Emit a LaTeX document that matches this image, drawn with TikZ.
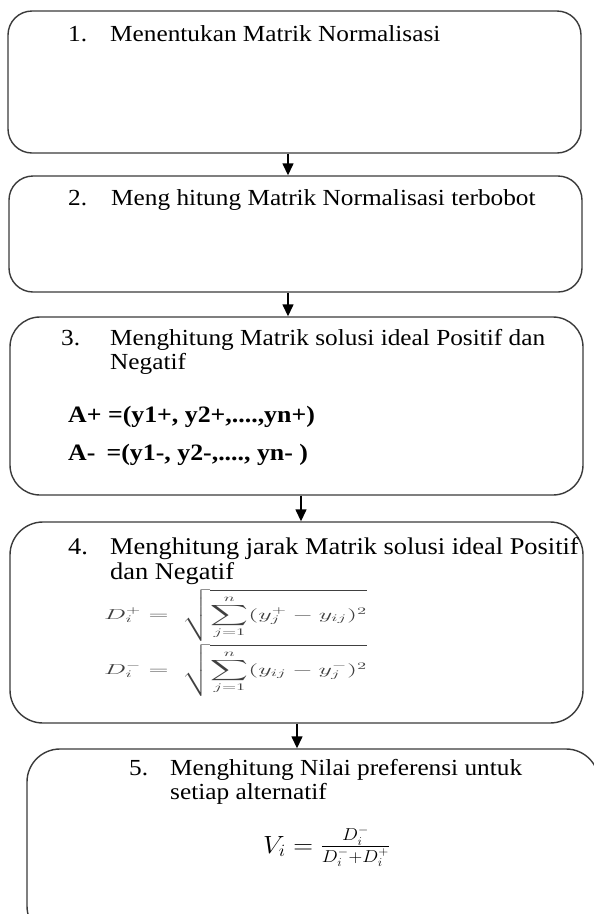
\documentclass[tikz,border=0pt]{standalone}
\usepackage{amsmath}
\usepackage{fontspec}
\setmainfont{Liberation Serif}[FakeStretch=1.1]
\usetikzlibrary{arrows.meta}
\definecolor{boxgray}{HTML}{3A3A3A}
\definecolor{mathgray}{HTML}{404040}
\begin{document}
\begin{tikzpicture}[x=1pt,y=-1pt,
  flowbox/.style={draw=boxgray, line width=1.4pt, inner sep=0pt},
  txt/.style={anchor=base west, inner sep=0pt, font=\fontsize{23}{26}\selectfont},
  txtb/.style={anchor=base west, inner sep=0pt, font=\fontsize{23.5}{26}\selectfont\bfseries},
  txtl/.style={anchor=base west, inner sep=0pt, font=\fontsize{24}{26}\selectfont},
  fml/.style={anchor=base west, inner sep=0pt, text=mathgray, font=\fontsize{14}{16}\selectfont},
  fmlv/.style={anchor=base west, inner sep=0pt, font=\fontsize{25}{27}\selectfont},
  arr/.style={draw=black, line width=1.4pt, -{Triangle[width=11pt,length=12pt]}}]
\useasboundingbox (0,0) rectangle (594,914);
\clip (0,0) rectangle (594,914);
% boxes
\node[flowbox, rounded corners=24pt, minimum width=573pt, minimum height=142pt] (b1) at (294.5,82) {};
\node[flowbox, rounded corners=24pt, minimum width=573pt, minimum height=116pt] (b2) at (295.5,234) {};
\node[flowbox, rounded corners=30pt, minimum width=573pt, minimum height=178pt] (b3) at (296.5,406) {};
\node[flowbox, rounded corners=33pt, minimum width=573pt, minimum height=201pt] (b4) at (296.5,622.5) {};
\node[flowbox, rounded corners=33pt, minimum width=572pt, minimum height=190pt] (b5) at (313,844) {};
% arrow columns
\coordinate (a1) at (288,0);
\coordinate (a2) at (288,0);
\coordinate (a3) at (301,0);
\coordinate (a4) at (297,0);
\draw[arr] (b1.south -| a1) -- (b2.north -| a1);
\draw[arr] (b2.south -| a2) -- (b3.north -| a2);
\draw[arr] (b3.south -| a3) -- (b4.north -| a3);
\draw[arr] (b4.south -| a4) -- (b5.north -| a4);
% box 1
\node[txt] (n1) at (68,41) {1.};
\node[txt] (t1) at (110,41) {Menentukan Matrik Normalisasi};
% box 2
\node[txt] (n2) at (68,205) {2.};
\node[txt] (t2) at (111,205) {Meng hitung Matrik Normalisasi terbobot};
% box 3
\node[txt] (n3) at (61,345) {3.};
\node[txt] (t3a) at (110,345) {Menghitung Matrik solusi ideal Positif dan};
\node[txt] (t3b) at (110,369) {Negatif};
\node[txtb] (t3c) at (68,422) {A+ =(y1+, y2+,....,yn+)};
\node[txtb] (t3d) at (68,460) {A-\hspace{0.2em} =(y1-, y2-,...., yn- )};
% box 4
\node[txtl] (n4) at (68,554) {4.};
\node[txtl] (t4a) at (110,554) {Menghitung jarak Matrik solusi ideal Positif};
\node[txtl] (t4b) at (110,579) {dan Negatif};
\node[fml] (f4a) at (104,619) {\scalebox{1.82}[1.0]{$\displaystyle D_i^{+} =\ \sqrt{\sum_{j=1}^{n}(y_j^{+} - y_{ij})^2}$}};
\node[fml] (f4b) at (104,674) {\scalebox{1.82}[1.0]{$\displaystyle D_i^{-} =\ \sqrt{\sum_{j=1}^{n}(y_{ij} - y_j^{-})^2}$}};
% box 5
\node[txt] (n5) at (129,775) {5.};
\node[txt] (t5a) at (170,775) {Menghitung Nilai preferensi untuk};
\node[txt] (t5b) at (170,799) {setiap alternatif};
\node[fmlv] (f5) at (263,853) {\scalebox{1.1}[1]{$V_i = \frac{D_i^-}{D_i^- + D_i^+}$}};
\end{tikzpicture}
\end{document}
